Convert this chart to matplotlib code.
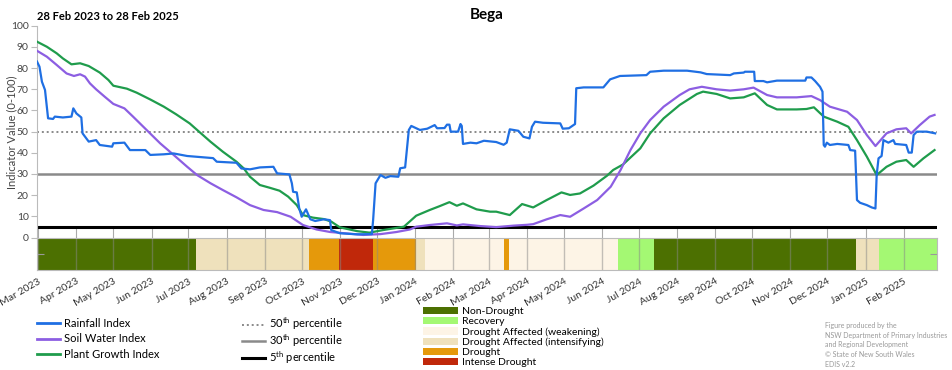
import numpy as np
import pandas as pd
import matplotlib
matplotlib.use('Agg')
import matplotlib.pyplot as plt
import matplotlib.dates as mdates
from matplotlib.lines import Line2D
from matplotlib.patches import Patch

plt.rcParams['font.family'] = ['Lato', 'DejaVu Sans']
plt.rcParams['mathtext.fontset'] = 'custom'
plt.rcParams['mathtext.rm'] = 'Lato'

start = pd.Timestamp('2023-02-28')
end = pd.Timestamp('2025-02-28')

# days since 28 Feb 2023
rain_days = [0, 2, 4, 6.5, 8, 9, 13, 14.5, 21, 28,
             29.5, 32, 36, 37, 42, 48, 51, 61, 62, 71,
             75.5, 88, 92, 103, 111, 122, 143, 146, 162, 166,
             173, 181, 192, 195, 205, 207, 208, 211, 213, 215,
             218.5, 222, 226, 233, 238, 239, 246, 260, 272, 273,
             275, 279, 283, 287, 293.5, 295, 299, 302, 304, 311,
             317, 323, 325, 331, 333, 335, 336, 342, 344, 345,
             346, 352, 357, 363, 373, 379, 381.5, 384, 391, 395,
             400, 402, 404.5, 411, 425, 427, 432, 437, 438, 444,
             460, 465.5, 473.5, 495, 498, 509, 528, 539, 544, 563,
             566, 574, 575, 582.5, 583, 590, 593, 601, 624, 625,
             629, 632, 636, 638, 639, 640, 641.5, 644, 650, 659,
             660.5, 664.5, 666, 668.5, 674, 678, 681, 682, 683.5, 686,
             687.5, 691.5, 695.6, 697, 706, 708, 710.5, 712, 714.6, 722.7,
             729.5]
rain_vals = [83.1, 80.7, 73.6, 69.7, 61.8, 56.3, 56.0, 57.1, 56.7, 57.1,
             61.0, 58.6, 56.7, 49.2, 45.3, 46.0, 43.7, 42.9, 44.5, 44.8,
             41.3, 41.3, 39.0, 39.3, 39.7, 38.5, 37.5, 35.8, 35.3, 32.6,
             32.2, 33.1, 33.4, 30.3, 29.8, 25.6, 21.6, 21.3, 13.7, 9.8,
             13.3, 8.6, 7.8, 8.6, 8.2, 3.5, 2.0, 1.5, 1.6, 8.2,
             25.6, 29.5, 28.2, 29.0, 28.7, 32.7, 33.1, 50.8, 52.7, 50.8,
             51.4, 53.1, 51.6, 51.7, 53.3, 53.3, 50.0, 50.0, 53.6, 52.7,
             44.2, 44.8, 44.5, 45.7, 45.1, 43.8, 44.8, 51.1, 50.4, 47.6,
             46.8, 52.3, 54.7, 54.2, 53.9, 51.4, 51.6, 53.6, 70.5, 70.9,
             70.9, 74.7, 76.3, 76.7, 78.3, 78.8, 78.8, 78.0, 77.2, 76.7,
             77.5, 77.9, 78.3, 78.3, 73.9, 73.9, 73.3, 74.1, 74.1, 75.6,
             75.6, 73.9, 71.2, 68.9, 43.7, 42.9, 44.8, 43.7, 44.2, 43.7,
             41.3, 41.0, 17.7, 16.4, 15.3, 14.2, 13.7, 29.5, 37.4, 38.5,
             46.0, 44.8, 46.0, 44.2, 43.7, 40.1, 40.1, 48.4, 50.0, 50.0,
             49.2]

soil_days = [0, 8, 16, 24, 30, 35, 39, 43, 48, 55,
             62, 71, 78, 89, 100, 111, 122, 130, 141, 151,
             162, 173, 184, 195, 206, 216, 227, 238, 252, 265,
             279, 292, 303, 308, 319, 333, 341, 346, 360, 373,
             387, 398, 403, 414, 425, 433, 444, 455, 466, 474,
             482, 490, 498, 509, 522, 530, 540, 552, 563, 574,
             582, 593, 601, 617, 629, 636, 644, 658, 666, 674,
             681, 690, 698, 706, 710, 717, 725, 729]
soil_vals = [88.2, 85.4, 81.5, 77.5, 76.3, 77.1, 76.0, 72.8, 70.0, 66.5,
             63.1, 61.0, 57.1, 50.8, 44.5, 39.0, 33.4, 29.5, 25.6, 22.4,
             19.0, 15.3, 13.0, 12.0, 9.8, 5.9, 3.8, 2.6, 1.9, 1.2,
             1.6, 2.6, 3.8, 5.1, 5.9, 6.7, 5.7, 6.2, 5.4, 4.9,
             5.6, 6.0, 6.3, 8.6, 10.6, 9.8, 13.7, 17.7, 24.0, 31.9,
             41.3, 49.2, 55.5, 61.8, 67.3, 70.0, 71.2, 70.0, 69.4, 70.0,
             70.8, 67.3, 66.2, 66.2, 66.8, 64.9, 61.8, 59.4, 55.5, 48.4,
             43.2, 49.2, 51.1, 51.6, 49.2, 53.1, 57.1, 57.9]

plant_days = [0, 8, 16, 21, 28, 35, 42, 51, 58, 62,
              73, 81, 92, 103, 113, 124, 132, 141, 151, 162,
              168, 173, 181, 189, 197, 204, 211, 216, 224, 233,
              239, 246, 260, 270, 281, 298, 308, 319, 327, 335,
              341, 346, 357, 368, 373, 384, 394, 403, 414, 426,
              433, 441, 452, 463, 468, 476, 490, 498, 509, 522,
              536, 541, 552, 563, 574, 583, 593, 601, 617, 625,
              631, 639, 650, 659, 666, 674, 682, 690, 698, 706,
              712, 720, 729]
plant_vals = [92.5, 90.1, 87.0, 84.6, 81.8, 82.3, 81.0, 77.9, 74.4, 71.7,
              70.3, 68.4, 65.2, 61.8, 58.2, 53.9, 49.8, 45.2, 40.5, 35.8,
              32.6, 28.7, 24.8, 23.5, 22.1, 19.3, 15.3, 10.6, 9.4, 8.7,
              7.5, 4.8, 3.0, 2.3, 3.5, 5.1, 10.3, 13.0, 14.8, 16.7,
              15.0, 16.1, 13.3, 12.2, 12.2, 10.6, 15.8, 14.2, 17.7, 21.3,
              20.1, 20.8, 24.5, 29.2, 31.9, 34.5, 42.1, 49.2, 56.3, 62.6,
              67.8, 68.9, 67.8, 65.7, 66.2, 68.1, 62.6, 60.5, 60.5, 60.7,
              61.5, 57.1, 54.7, 52.3, 46.0, 38.2, 29.5, 33.4, 35.8, 36.6,
              33.4, 37.4, 41.3]

# drought category periods (start dates)
cat_starts = ['2023-02-28', '2023-07-07', '2023-10-07', '2023-10-31', '2023-11-28',
              '2024-01-02', '2024-01-09', '2024-03-13', '2024-03-17', '2024-06-14',
              '2024-07-13', '2024-12-24', '2025-01-12']
cat_names = ['Non-Drought', 'Drought Affected (intensifying)', 'Drought', 'Intense Drought',
             'Drought', 'Drought Affected (intensifying)', 'Drought Affected (weakening)',
             'Drought', 'Drought Affected (weakening)', 'Recovery', 'Non-Drought',
             'Drought Affected (intensifying)', 'Recovery']

cat_colors = {
    'Non-Drought': '#4c7001',
    'Recovery': '#a4f873',
    'Drought Affected (weakening)': '#fdf4e6',
    'Drought Affected (intensifying)': '#efe1bc',
    'Drought': '#e5990b',
    'Intense Drought': '#c0280a',
}

BLUE = '#1f6fe3'
PURPLE = '#8c5ee2'
GREEN = '#1f9c4c'


def to_dates(days):
    return start + pd.to_timedelta(np.array(days), unit='D')


W, H = 952, 370
fig = plt.figure(figsize=(W / 100, H / 100), dpi=100)
ax = fig.add_axes([37 / W, 1 - 237.5 / H, 900 / W, 211.7 / H])
bx = fig.add_axes([37 / W, 1 - 270 / H, 900 / W, 32.5 / H])

ax.axhline(50, color='#8a8a8a', lw=1.4, ls=(0, (1, 1.5)), zorder=2)
ax.axhline(30, color='#8a8a8a', lw=1.8, zorder=2)
ax.axhline(5, color='black', lw=2.2, zorder=2)

ax.plot(to_dates(plant_days), plant_vals, color=GREEN, lw=1.6, zorder=3)
ax.plot(to_dates(soil_days), soil_vals, color=PURPLE, lw=1.6, zorder=4)
ax.plot(to_dates(rain_days), rain_vals, color=BLUE, lw=1.6, zorder=5)

ax.set_xlim(start, end)
ax.set_ylim(0, 100)
ax.set_yticks(range(0, 101, 10))
for s in ['top', 'right', 'bottom']:
    ax.spines[s].set_visible(False)
ax.spines['left'].set_color('#bbbbbb')
ax.tick_params(axis='y', length=4, color='#bbbbbb', labelsize=7.5, labelcolor='#444444', pad=2)
ax.xaxis.set_major_locator(mdates.MonthLocator())
ax.tick_params(axis='x', direction='in', length=7, color='#aaaaaa', labelbottom=False)
fig.text(12 / W, 1 - 132 / H, 'Indicator Value (0-100)', rotation=90, fontsize=8,
         color='#444444', ha='center', va='center')

# category bar
ends = cat_starts[1:] + [end.strftime('%Y-%m-%d')]
for s, e, name in zip(cat_starts, ends, cat_names):
    bx.axvspan(pd.Timestamp(s), pd.Timestamp(e), color=cat_colors[name], lw=0)
bx.set_xlim(start, end)
bx.set_ylim(0, 1)
bx.set_yticks([0.5])
bx.set_yticklabels([])
bx.tick_params(axis='y', direction='in', left=True, right=True, length=5, color='#999999')
for s in bx.spines.values():
    s.set_color('#bbbbbb')
bx.xaxis.set_major_locator(mdates.MonthLocator())
bx.xaxis.set_major_formatter(mdates.DateFormatter('%b %Y'))
bx.grid(axis='x', color='#888888', alpha=0.5, lw=1)
bx.tick_params(axis='x', length=0, labelsize=7.5, labelcolor='#333333', pad=5)
for lab in bx.get_xticklabels():
    lab.set_rotation(30)
    lab.set_ha('right')
    lab.set_rotation_mode('anchor')

fig.text(37 / W, 1 - 17 / H, '28 Feb 2023 to 28 Feb 2025', fontsize=8, fontweight='bold', va='center')
fig.text(487 / W, 1 - 15 / H, 'Bega', fontsize=11, fontweight='bold', ha='center', va='center')

# legends
h1 = [Line2D([], [], color=BLUE, lw=2), Line2D([], [], color=PURPLE, lw=2), Line2D([], [], color=GREEN, lw=2)]
fig.legend(h1, ['Rainfall Index', 'Soil Water Index', 'Plant Growth Index'],
           loc='upper left', bbox_to_anchor=(37 / W, 1 - 318 / H), frameon=False, fontsize=8,
           handlelength=2.1, handletextpad=0.3, labelspacing=0.4, borderpad=0, borderaxespad=0)
h2 = [Line2D([], [], color='#8a8a8a', lw=1.4, ls=(0, (1, 1.5))), Line2D([], [], color='#8a8a8a', lw=1.8),
      Line2D([], [], color='black', lw=2.2)]
fig.legend(h2, ['50$^{\\rm th}$ percentile', '30$^{\\rm th}$ percentile', '5$^{\\rm th}$ percentile'],
           loc='upper left', bbox_to_anchor=(242 / W, 1 - 316 / H), frameon=False, fontsize=8,
           handlelength=2.1, handletextpad=0.3, labelspacing=0.03, borderpad=0, borderaxespad=0)
cat_order = ['Non-Drought', 'Recovery', 'Drought Affected (weakening)',
             'Drought Affected (intensifying)', 'Drought', 'Intense Drought']
h3 = [Patch(facecolor=cat_colors[c], edgecolor='none') for c in cat_order]
fig.legend(h3, cat_order, loc='upper left', bbox_to_anchor=(423 / W, 1 - 307 / H), frameon=False,
           fontsize=7.5, handlelength=3.4, handleheight=0.7, handletextpad=0.35, labelspacing=0.07,
           borderpad=0, borderaxespad=0)

fig.text(825 / W, 1 - 322 / H, 'Figure produced by the\nNSW Department of Primary Industries\n'
         'and Regional Development\n\u00a9 State of New South Wales\nEDIS v2.2',
         fontsize=5, color='#999999', va='top', linespacing=1.45)

fig.savefig('out.png', dpi=100)
